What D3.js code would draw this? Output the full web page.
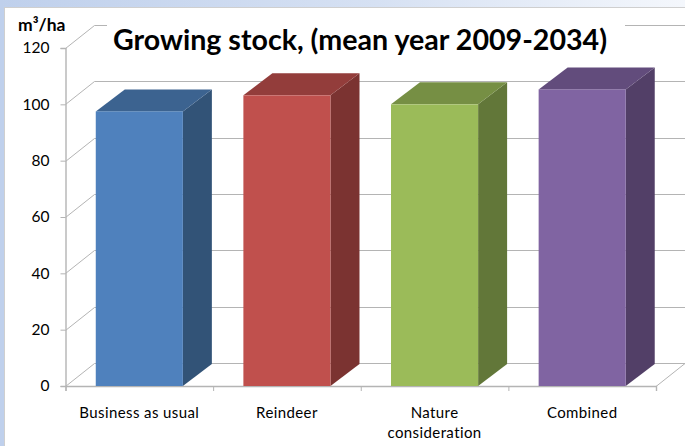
<!DOCTYPE html>
<html>
<head>
<meta charset="utf-8">
<script src="https://cdn.jsdelivr.net/npm/d3@7"></script>
<style>
html,body{margin:0;padding:0;background:#fff;}
svg{display:block;}
text{font-family:Lato,"Open Sans",sans-serif;fill:#000;}
</style>
</head>
<body>
<svg id="chart" width="685" height="446"></svg>
<script>
const categories = ["Business as usual", "Reindeer", "Nature consideration", "Combined"];
const growingStock = [97.5, 103.2, 100, 105.3];
const yTicks = [0, 20, 40, 60, 80, 100, 120];
const frontColors = ["#4f81bd", "#c0504d", "#9bbb59", "#8064a2"];
const topColors = ["#3c6390", "#933d3b", "#768f44", "#624c7c"];
const sideColors = ["#325377", "#7b3331", "#627739", "#523f67"];
const titleText = "Growing stock, (mean year 2009-2034)";
const unitText = "m³/ha";

const svg = d3.select("#chart");
const barDepth = {dx: 29, dy: -22};
const wallDepth = {dx: 29, dy: -23};
const gridColor = "#b4b4b4";

const y = d3.scaleLinear().domain([0, 120]).range([386, 48]);
const x = d3.scaleBand().domain(categories).range([65.5, 656]).paddingInner(0.41).paddingOuter(0.205);

// Window chrome behind the chart
const defs = svg.append("defs");
const chrome = defs.append("linearGradient").attr("id", "chrome");
chrome.append("stop").attr("offset", "0").attr("stop-color", "#bfd0ec");
chrome.append("stop").attr("offset", "0.55").attr("stop-color", "#d6e1f3");
chrome.append("stop").attr("offset", "1").attr("stop-color", "#f4f7fc");
svg.append("rect").attr("width", 685).attr("height", 7).attr("fill", "url(#chrome)");
svg.append("rect").attr("y", 7).attr("width", 4).attr("height", 439).attr("fill", "#bfd0ec");
svg.append("line").attr("x1", 4).attr("x2", 685).attr("y1", 7.5).attr("y2", 7.5).attr("stroke", "#cfcfcf");
svg.append("line").attr("x1", 4.5).attr("x2", 4.5).attr("y1", 7).attr("y2", 446).attr("stroke", "#cfcfcf");

// Back-wall gridlines and their slanted links to the axis
const grid = svg.append("g").attr("fill", "none").attr("stroke", gridColor).attr("stroke-width", 1);
yTicks.forEach(t => {
  const yy = Math.round(y(t)) + 0.5;
  grid.append("path").attr("d",
    `M${x.range()[0]},${yy}L${x.range()[0] + wallDepth.dx},${yy + wallDepth.dy}L685,${yy + wallDepth.dy}`);
});

// Floor edge on the right-hand side
const floorY = Math.round(y(0)) + 0.5;
grid.append("path").attr("d",
  `M${x.range()[1]},${floorY}L${x.range()[1] + wallDepth.dx},${floorY + wallDepth.dy}`);

// Value axis and category axis drawn through d3-axis
const yAxis = d3.axisLeft(y).tickValues(yTicks).tickSize(5).tickPadding(11).tickFormat(d3.format("d"));
const yg = svg.append("g").attr("transform", `translate(${x.range()[0]},0)`).call(yAxis);
const xEdges = d3.scalePoint().domain(d3.range(categories.length + 1)).range(x.range());
const xAxis = d3.axisBottom(xEdges).tickSize(5).tickFormat("");
const xg = svg.append("g").attr("transform", `translate(0,${Math.round(y(0))})`).call(xAxis);
[yg, xg].forEach(g => {
  g.selectAll("path").attr("stroke", gridColor).attr("stroke-width", 1.4);
  g.selectAll("line").attr("stroke", gridColor);
});
yg.selectAll("text").attr("font-size", 15.5).attr("fill", "#000");

// Extruded bars: side, top, then front face
const bars = svg.append("g").selectAll("g").data(categories).join("g");
bars.each(function (c, i) {
  const g = d3.select(this);
  const x0 = x(c), x1 = x0 + x.bandwidth(), top = y(growingStock[i]), base = y(0);
  g.append("path").attr("fill", sideColors[i]).attr("d", d3.line()([
    [x1, top], [x1 + barDepth.dx, top + barDepth.dy], [x1 + barDepth.dx, base + barDepth.dy], [x1, base]
  ]) + "Z");
  g.append("path").attr("fill", topColors[i]).attr("d", d3.line()([
    [x0, top], [x0 + barDepth.dx, top + barDepth.dy], [x1 + barDepth.dx, top + barDepth.dy], [x1, top]
  ]) + "Z");
  g.append("rect").attr("fill", frontColors[i])
    .attr("x", x0).attr("y", top).attr("width", x.bandwidth()).attr("height", base - top);
});

// Category labels, wrapped where the name is too long for one line
categories.forEach(c => {
  const cx = x(c) + x.bandwidth() / 2;
  const parts = c === "Nature consideration" ? c.split(" ") : [c];
  const label = svg.append("text").attr("text-anchor", "middle").attr("font-size", 15).attr("letter-spacing", 0.4);
  parts.forEach((p, k) => label.append("tspan").attr("x", cx).attr("y", 418 + k * 20).text(p));
});

// Unit caption and the title on its opaque box, which hides the top gridline
svg.append("text").attr("x", 18).attr("y", 31).attr("font-size", 17.5).attr("font-weight", 700).text(unitText);
svg.append("rect").attr("x", 107).attr("y", 18).attr("width", 518).attr("height", 44).attr("fill", "#fff");
svg.append("text").attr("x", 113).attr("y", 50).attr("font-size", 28.6).attr("font-weight", 700).text(titleText);
</script>
</body>
</html>
